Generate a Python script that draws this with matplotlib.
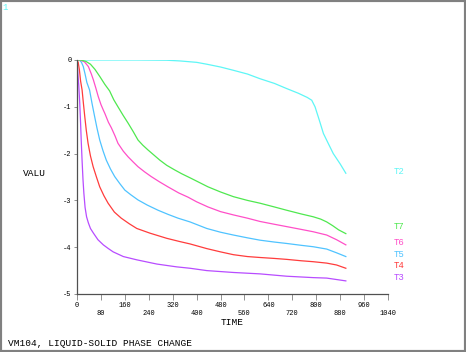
import matplotlib
matplotlib.use("Agg")
import matplotlib.pyplot as plt
import matplotlib.patches as patches

# time histories (time, value)
t2_time = [0, 100, 200, 300, 344, 400, 434, 480, 523, 570, 612, 660, 701, 740, 770, 785, 796, 810, 824, 840, 857, 880, 899]
t2_val = [0, 0, 0, -0.005, -0.02, -0.05, -0.09, -0.15, -0.22, -0.30, -0.40, -0.50, -0.61, -0.71, -0.80, -0.86, -1.0, -1.28, -1.57, -1.78, -2.0, -2.22, -2.42]

t7_time = [0, 12, 30, 45, 60, 77, 93, 109, 123, 137, 154, 171, 188, 204, 220, 237, 257, 277, 300, 327, 350, 382, 410, 438, 480, 523, 570, 612, 660, 701, 750, 790, 815, 835, 855, 875, 899]
t7_val = [0, 0, -0.03, -0.09, -0.2, -0.36, -0.52, -0.66, -0.85, -1.0, -1.18, -1.35, -1.53, -1.71, -1.82, -1.92, -2.03, -2.14, -2.25, -2.35, -2.43, -2.53, -2.62, -2.71, -2.82, -2.92, -3.0, -3.06, -3.14, -3.21, -3.29, -3.35, -3.4, -3.46, -3.54, -3.63, -3.71]

t6_time = [0, 10, 25, 38, 48, 55, 63, 71, 80, 88, 93, 105, 115, 127, 137, 155, 171, 188, 204, 226, 248, 275, 304, 340, 371, 400, 438, 480, 523, 570, 612, 660, 701, 750, 790, 835, 868, 899]
t6_val = [0, 0, -0.04, -0.14, -0.3, -0.43, -0.6, -0.78, -0.95, -1.07, -1.14, -1.33, -1.45, -1.62, -1.78, -1.95, -2.07, -2.18, -2.28, -2.39, -2.49, -2.6, -2.71, -2.84, -2.93, -3.03, -3.14, -3.24, -3.31, -3.38, -3.45, -3.51, -3.56, -3.62, -3.67, -3.74, -3.84, -3.95]

t5_time = [0, 8, 15, 21, 27, 33, 42, 50, 59, 67, 76, 87, 98, 112, 126, 143, 160, 180, 204, 235, 271, 305, 338, 378, 434, 480, 523, 570, 612, 660, 701, 750, 790, 835, 868, 899]
t5_val = [0, 0, -0.05, -0.14, -0.3, -0.48, -0.64, -0.92, -1.21, -1.46, -1.71, -1.94, -2.14, -2.33, -2.49, -2.64, -2.78, -2.88, -2.99, -3.1, -3.21, -3.3, -3.38, -3.46, -3.6, -3.68, -3.74, -3.8, -3.85, -3.89, -3.92, -3.96, -3.99, -4.04, -4.12, -4.2]

t4_time = [0, 4, 8, 12, 17, 21, 26, 31, 37, 45, 54, 65, 76, 90, 104, 125, 148, 175, 200, 244, 300, 344, 378, 434, 480, 523, 570, 612, 660, 701, 750, 790, 835, 868, 899]
t4_val = [0, -0.05, -0.21, -0.45, -0.64, -0.9, -1.21, -1.5, -1.78, -2.05, -2.28, -2.5, -2.71, -2.9, -3.06, -3.25, -3.38, -3.5, -3.6, -3.7, -3.81, -3.88, -3.93, -4.03, -4.1, -4.16, -4.2, -4.22, -4.24, -4.26, -4.29, -4.31, -4.34, -4.38, -4.45]

t3_time = [0, 3, 6, 9, 12, 14, 17, 20, 23, 27, 32, 38, 45, 55, 70, 88, 105, 121, 155, 200, 267, 333, 378, 434, 523, 612, 701, 790, 835, 899]
t3_val = [0, -0.3, -0.55, -0.9, -1.35, -1.7, -2.15, -2.55, -2.85, -3.15, -3.35, -3.48, -3.6, -3.7, -3.84, -3.95, -4.03, -4.1, -4.2, -4.27, -4.36, -4.42, -4.45, -4.5, -4.54, -4.57, -4.62, -4.65, -4.66, -4.72]

names = ["T2", "T7", "T6", "T5", "T4", "T3"]
colors = ["#5ef6f6", "#4fe84f", "#ff4fc8", "#4fc3ff", "#ff3c3c", "#b84cff"]
label_y = [-2.39, -3.55, -3.91, -4.15, -4.40, -4.64]

x_major = [0, 160, 320, 480, 640, 800, 960]
x_minor = [80, 240, 400, 560, 720, 880, 1040]
y_ticks = [0, -1, -2, -3, -4, -5]
y_labels = ["0", "-1", "-2", "-3", "-4", "-5"]

mono = "Liberation Mono"

fig = plt.figure(figsize=(4.66, 3.52), dpi=100)
fig.patch.set_facecolor("white")
ax = fig.add_axes([77/466, 58/352, 311/466, 234/352])

series = [(t2_time, t2_val), (t3_time, t3_val), (t4_time, t4_val),
          (t5_time, t5_val), (t6_time, t6_val), (t7_time, t7_val)]
order = ["T2", "T3", "T4", "T5", "T6", "T7"]
for name, (tt, vv) in zip(order, series):
    c = colors[names.index(name)]
    ax.plot(tt, vv, color=c, lw=0.9)

for name, c, yy in zip(names, colors, label_y):
    ax.text(1058, yy, name, color=c, fontsize=6.5, family=mono,
            ha="left", va="center", clip_on=False)

ax.set_xlim(0, 1040)
ax.set_ylim(-5, 0)
for s in ["top", "right"]:
    ax.spines[s].set_visible(False)
for s in ["left", "bottom"]:
    ax.spines[s].set_color("#505050")
    ax.spines[s].set_linewidth(0.9)

ax.set_xticks(x_major, [str(v) for v in x_major])
ax.set_xticks(x_minor, [str(v) for v in x_minor], minor=True)
ax.tick_params(axis="x", which="major", length=4, width=0.6, color="#808080",
               pad=2, labelsize=5)
ax.tick_params(axis="x", which="minor", length=4, width=0.6, color="#808080",
               pad=7.5, labelsize=5)
ax.set_yticks(y_ticks, y_labels)
ax.tick_params(axis="y", length=2.5, width=0.6, color="#808080", pad=1.5,
               labelsize=5)
for lab in ax.get_xticklabels(which="both") + ax.get_yticklabels():
    lab.set_family(mono)

ax.set_xlabel("TIME", family=mono, fontsize=6.8, labelpad=1)
fig.text(34/466, 1 - 173/352, "VALU", family=mono, fontsize=6.8,
         ha="center", va="center")
fig.text(8/466, 1 - 344/352, "VM104, LIQUID-SOLID PHASE CHANGE", family=mono,
         fontsize=6.8, ha="left", va="center")
fig.text(5/466, 1 - 8/352, "1", color="#5ef6f6", family=mono, fontsize=6.5,
         ha="center", va="center")

border = patches.Rectangle((0, 0), 1, 1, transform=fig.transFigure, fill=False,
                           edgecolor="#808080", lw=3)
fig.patches.append(border)

fig.savefig("out.png", dpi=100)
